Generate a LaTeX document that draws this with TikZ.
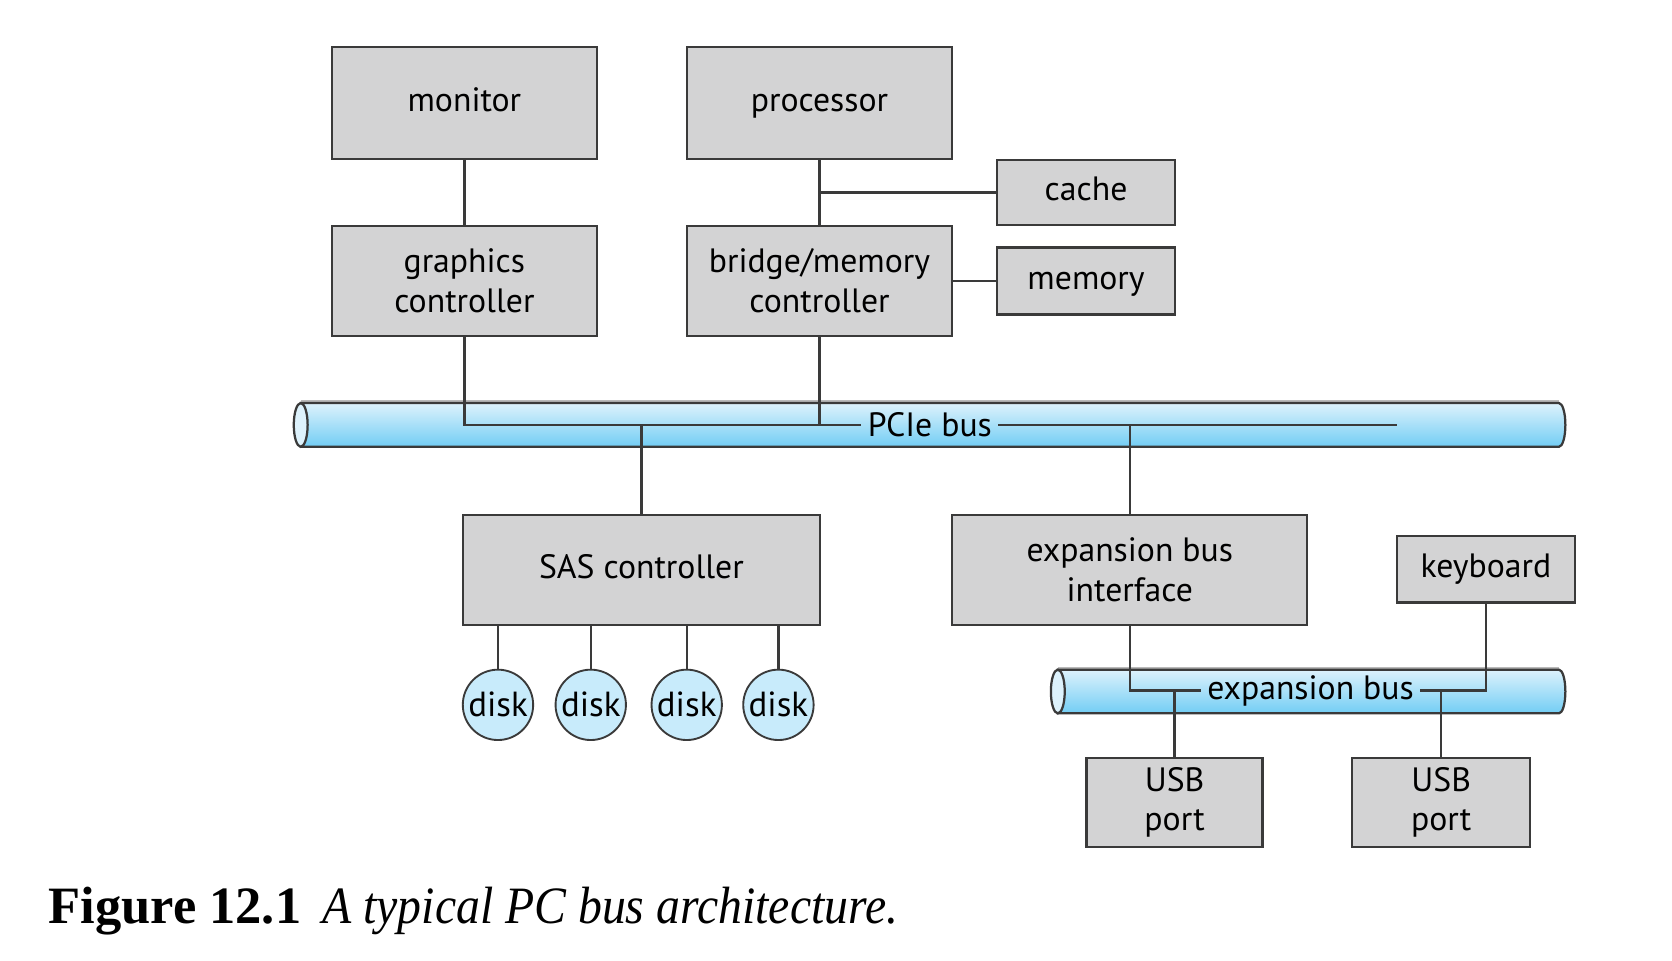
\documentclass[tikz,border=0pt]{standalone}
\usepackage{fontspec}
\usepackage{xcolor}
\usetikzlibrary{positioning}
\setsansfont{PT Sans}
\setmainfont{Liberation Serif}

\definecolor{boxgray}{HTML}{D3D3D4}
\definecolor{linegray}{HTML}{3A3A3A}
\definecolor{bustop}{HTML}{DDF2FC}
\definecolor{busbot}{HTML}{72CDF4}
\definecolor{diskblue}{HTML}{C8EBFB}

\tikzset{
  box/.style={draw=linegray, fill=boxgray, line width=0.6pt, align=center, inner sep=0pt,
    font=\sffamily\fontsize{9}{10.6}\selectfont},
  oneline/.style={text height=0.22cm, text depth=0.06cm},
  disk/.style={circle, draw=linegray, fill=diskblue, line width=0.5pt, minimum size=0.66cm,
    inner sep=0pt, font=\sffamily\fontsize{9.3}{11}\selectfont},
  wire/.style={draw=linegray, line width=0.6pt},
  buslabel/.style={inner sep=1.5pt, font=\sffamily\fontsize{9}{11}\selectfont}
}

% 总线圆柱: 左端椭圆中心x, 右端x, 中心y
\newcommand{\busbar}[3]{%
  \draw[gray!55, line width=1pt] (#1,#3+0.215) -- (#2-0.06,#3+0.215);
  \shade[top color=bustop, bottom color=busbot, draw=linegray, line width=0.6pt]
    (#1,#3+0.205) -- (#2-0.06,#3+0.205)
    arc[start angle=90, end angle=-90, x radius=0.06, y radius=0.205]
    -- (#1,#3-0.205) -- cycle;
  \draw[fill=bustop, draw=linegray, line width=0.6pt] (#1,#3) ellipse[x radius=0.065, y radius=0.205];
}

\begin{document}
\begin{tikzpicture}
    \useasboundingbox (0,0) rectangle (15.68,-9.003);

    % 两条总线
    \busbar{2.82}{14.68}{-3.985}
    \busbar{9.92}{14.68}{-6.485}

    % 上面一排
    \node[box, oneline, minimum width=2.49cm, minimum height=1.05cm] (monitor) at (4.355,-0.965) {monitor};
    \node[box, oneline, minimum width=2.49cm, minimum height=1.05cm] (proc) at (7.685,-0.965) {processor};
    \node[box, oneline, minimum width=1.67cm, minimum height=0.61cm] (cache) at (10.185,-1.805) {cache};
    \node[box, minimum width=2.49cm, minimum height=1.03cm] (gfx) at (4.355,-2.635) {graphics\\controller};
    \node[box, minimum width=2.49cm, minimum height=1.03cm] (bridge) at (7.685,-2.635) {bridge/memory\\controller};
    \node[box, oneline, minimum width=1.67cm, minimum height=0.63cm] (memory) at (10.185,-2.635) {memory};

    % 总线下面
    \node[box, oneline, minimum width=3.35cm, minimum height=1.03cm] (sas) at (6.015,-5.345) {SAS controller};
    \node[box, minimum width=3.33cm, minimum height=1.03cm] (expif) at (10.595,-5.345) {expansion bus\\interface};
    \node[box, oneline, minimum width=1.67cm, minimum height=0.62cm] (kbd) at (13.935,-5.34) {keyboard};
    \node[box, minimum width=1.65cm, minimum height=0.83cm] (usb1) at (11.015,-7.525) {USB\\port};
    \node[box, minimum width=1.67cm, minimum height=0.83cm] (usb2) at (13.515,-7.525) {USB\\port};

    % 总线上的文字
    \node[buslabel] (pcie) at (8.72,-3.985) {PCIe bus};
    \node[buslabel] (expl) at (12.29,-6.475) {expansion bus};
    \coordinate (pcieend) at (13.10,-3.985);

    % 连线
    \draw[wire] (monitor) -- (gfx);
    \draw[wire] (proc) -- (bridge);
    \draw[wire] (cache.west) -- (cache.west -| proc);
    \draw[wire] (bridge.east) -- (memory.west);
    \draw[wire] (gfx.south) |- (pcie.west);
    \draw[wire] (pcie.east) -- (pcieend);
    \draw[wire] (bridge.south) -- (bridge |- pcie);
    \draw[wire] (sas.north) -- (sas |- pcie);
    \draw[wire] (expif.north) -- (expif |- pcie);
    \draw[wire] (expif.south) |- (expl.west);
    \draw[wire] (expl.east) -| (kbd.south);
    \draw[wire] (usb1.north) -- (usb1 |- expl);
    \draw[wire] (usb2.north) -- (usb2 |- expl);

    % 四个磁盘
    \foreach \x [count=\i] in {4.67,5.54,6.44,7.30} {
        \node[disk] (disk\i) at (\x,-6.61) {disk};
        \draw[wire] (disk\i) -- (disk\i |- sas.south);
    }

    % 图题
    \node[anchor=base west, inner sep=0pt, font=\fontsize{14}{16}\selectfont] (caption) at (0.45,-8.66)
        {\textbf{Figure 12.1}\hspace{0.4em}\scalebox{0.91}[1]{\textit{A typical PC bus architecture.}}};
\end{tikzpicture}
\end{document}
